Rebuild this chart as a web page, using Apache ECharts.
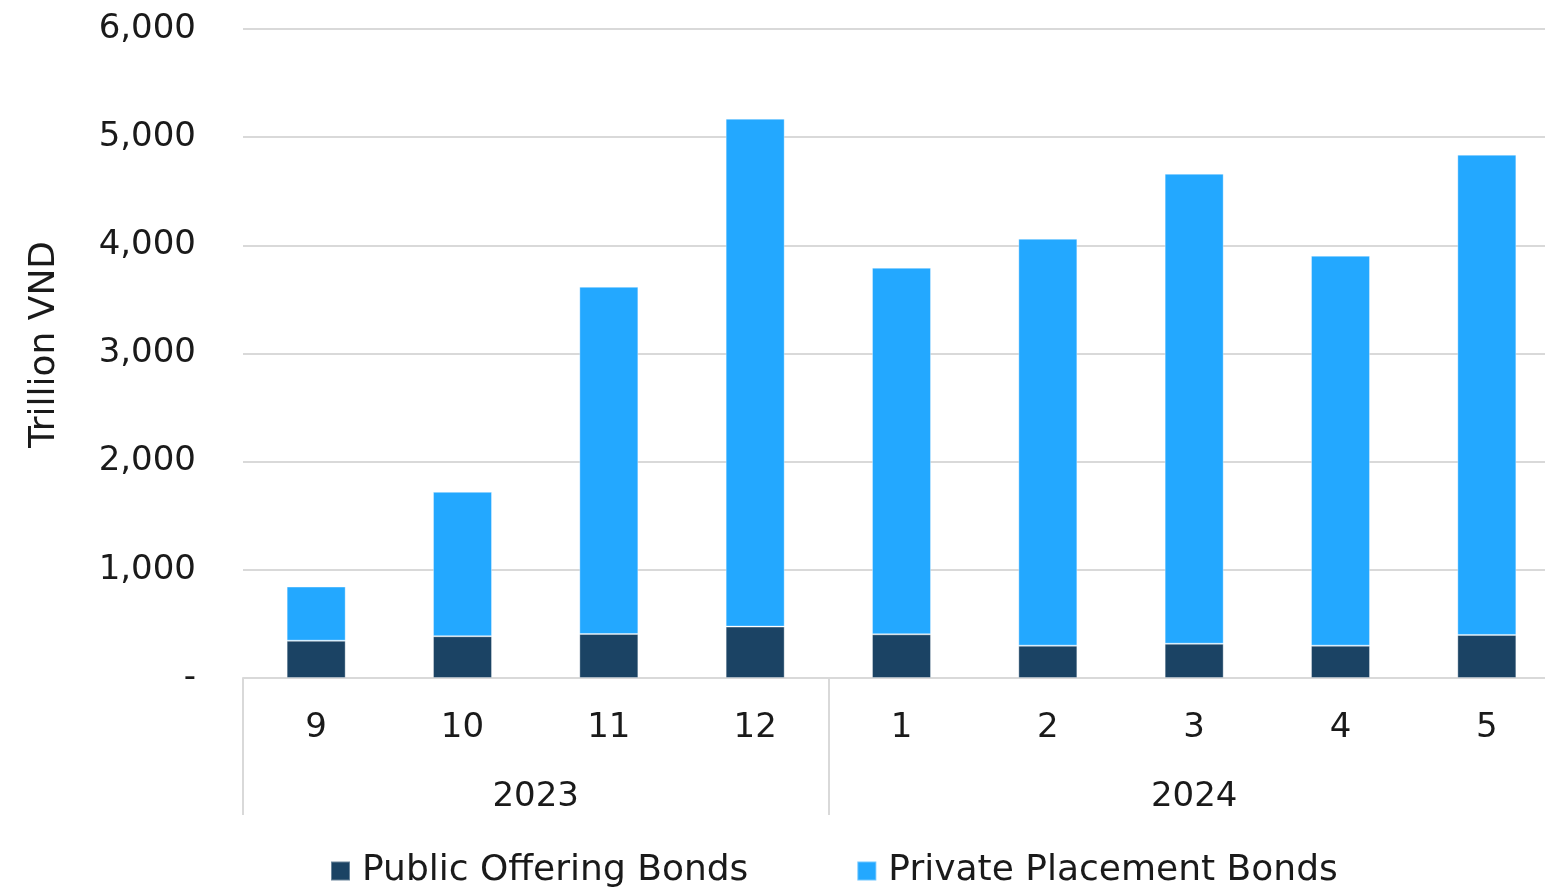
<!DOCTYPE html>
<html>
<head>
<meta charset="utf-8">
<script src="https://cdn.jsdelivr.net/npm/echarts@6/dist/echarts.min.js"></script>
<style>
  html, body { margin: 0; padding: 0; background: #ffffff; }
  #chart { width: 1545px; height: 889px; }
</style>
</head>
<body>
<div id="chart"></div>
<script>
// Monthly corporate bond issuance, Trillion VND
const months = ['9', '10', '11', '12', '1', '2', '3', '4', '5'];
const years = ['2023', '2024'];
const monthsPerYear = [4, 5];
const publicOffering = [345, 386, 407, 475, 404, 299, 317, 299, 398];
const privatePlacement = [500, 1335, 3210, 4696, 3389, 3762, 4345, 3605, 4440];

// Year group boundaries and centers along the month axis
const yearBounds = [0];
monthsPerYear.forEach(n => yearBounds.push(yearBounds[yearBounds.length - 1] + n));
const yearCenters = years.map((_, i) => (yearBounds[i] + yearBounds[i + 1]) / 2);

const FONT = 'DejaVu Sans';
const FS = 34;
const TEXT = '#1a1a1a';
const GRID_LINE = '#d9d9d9';

const chart = echarts.init(document.getElementById('chart'));
chart.setOption({
  animation: false,
  textStyle: { fontFamily: FONT, color: TEXT },
  grid: {
    left: 243, top: 29, right: -15, bottom: 211,
    containLabel: false,
    outerBoundsMode: 'none'
  },
  legend: {
    bottom: 0,
    left: 330,
    padding: 0,
    icon: 'rect',
    itemWidth: 19,
    itemHeight: 19,
    itemGap: 108,
    textStyle: { fontFamily: FONT, fontSize: 36, color: TEXT, padding: [0, 0, 0, 7] },
    data: ['Public Offering Bonds', 'Private Placement Bonds']
  },
  xAxis: [
    {
      type: 'category',
      data: months,
      axisLine: { show: true, lineStyle: { color: GRID_LINE, width: 2 } },
      axisTick: { show: false },
      axisLabel: { fontFamily: FONT, fontSize: FS, color: TEXT, margin: 33 }
    },
    {
      type: 'value',
      min: 0,
      max: months.length,
      position: 'bottom',
      axisLine: { show: false },
      splitLine: { show: false },
      axisTick: {
        show: true,
        customValues: yearBounds,
        length: 137,
        lineStyle: { color: GRID_LINE, width: 2 }
      },
      axisLabel: {
        customValues: yearCenters,
        formatter: v => years[yearCenters.indexOf(v)] || '',
        fontFamily: FONT, fontSize: FS, color: TEXT, margin: 102
      }
    }
  ],
  yAxis: {
    type: 'value',
    min: 0,
    max: 6000,
    interval: 1000,
    name: 'Trillion VND',
    nameLocation: 'middle',
    nameRotate: 90,
    nameGap: 180,
    nameTextStyle: { fontFamily: FONT, fontSize: 36, color: TEXT, padding: [0, 0, 0, 18] },
    axisLine: { show: false },
    axisTick: { show: false },
    splitLine: { lineStyle: { color: GRID_LINE, width: 2 } },
    axisLabel: {
      fontFamily: FONT, fontSize: FS, color: TEXT, margin: 47,
      formatter: v => (v === 0 ? '-' : v.toLocaleString('en-US'))
    }
  },
  series: [
    {
      name: 'Public Offering Bonds',
      type: 'bar',
      stack: 'total',
      xAxisIndex: 0,
      barWidth: 59,
      itemStyle: { color: '#1b4364', borderColor: 'rgba(255,255,255,0.35)', borderWidth: 1 },
      data: publicOffering
    },
    {
      name: 'Private Placement Bonds',
      type: 'bar',
      stack: 'total',
      xAxisIndex: 0,
      barWidth: 59,
      itemStyle: { color: '#23a8ff', borderColor: 'rgba(255,255,255,0.35)', borderWidth: 1 },
      data: privatePlacement
    }
  ]
});
</script>
</body>
</html>
